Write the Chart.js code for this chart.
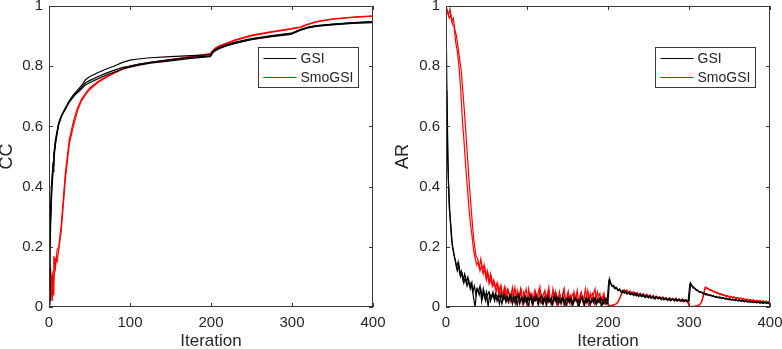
<!DOCTYPE html>
<html>
<head>
<meta charset="utf-8">
<script src="https://cdn.jsdelivr.net/npm/chart.js@4.4.0/dist/chart.umd.min.js"></script>
<style>
html, body { margin: 0; padding: 0; background: #fff; }
#wrap { position: relative; width: 782px; height: 349px; overflow: hidden; }
#wrap canvas { position: absolute; top: 0; }
</style>
</head>
<body>
<div id="wrap">
    <canvas id="ccChart" width="391" height="349" style="left:0"></canvas>
    <canvas id="arChart" width="391" height="349" style="left:391px"></canvas>
</div>
<script>
// ===== data =====
const xTicks = [0, 100, 200, 300, 400];
const xTickText = ['0', '100', '200', '300', '400'];
const yTicks = [0, 0.2, 0.4, 0.6, 0.8, 1];
const yTickText = ['0', '0.2', '0.4', '0.6', '0.8', '1'];
const legendLabels = ['GSI', 'SmoGSI'];

// CC panel: smooth curves, sampled at uneven iterations
const ccIter = [0, 1, 2, 3, 4, 5, 6, 8, 10, 12, 15, 18, 20, 25, 30, 35, 40, 45, 50, 60, 70, 80, 90, 100, 110, 125, 150, 175, 199,
    200, 202, 205, 210, 220, 230, 250, 275, 299, 300, 305, 310, 320, 330, 350, 375, 400];
const ccGsi1 = [.02, .2, .3, .38, .43, .47, .5, .55, .58, .61, .635, .65, .66, .685, .705, .72, .735, .755, .765, .778, .79, .80, .812, .82, .824, .828, .832, .835, .838,
    .84, .848, .855, .862, .872, .88, .892, .902, .91, .91, .916, .922, .93, .935, .94, .945, .948];
const ccGsi2 = [.01, .15, .27, .35, .41, .45, .49, .54, .575, .605, .63, .648, .658, .683, .70, .715, .728, .745, .752, .765, .776, .786, .795, .80, .806, .813, .822, .829, .834,
    .836, .846, .853, .86, .87, .878, .89, .90, .908, .909, .915, .921, .929, .934, .939, .944, .947];
const ccGsi3 = [.03, .24, .33, .40, .44, .48, .51, .555, .585, .612, .632, .646, .656, .68, .698, .712, .724, .738, .745, .758, .77, .78, .79, .797, .803, .81, .818, .826, .832,
    .834, .844, .851, .858, .868, .876, .888, .898, .906, .907, .913, .919, .927, .932, .937, .942, .945];
const ccSmo1 = [.05, .14, .02, .1, .11, .04, .17, .13, .19, .2, .27, .37, .44, .555, .615, .66, .69, .71, .727, .748, .765, .778, .79, .80, .806, .813, .822, .832, .842,
    .845, .852, .86, .868, .878, .888, .903, .915, .925, .926, .928, .93, .94, .948, .957, .963, .967];
const ccSmo2 = [0, .08, .13, .05, .02, .1, .09, .16, .15, .19, .25, .35, .42, .54, .60, .65, .685, .705, .722, .745, .762, .776, .789, .799, .805, .812, .821, .831, .84,
    .843, .85, .858, .866, .876, .886, .901, .913, .923, .924, .926, .929, .939, .947, .956, .962, .966];

// AR panel: noisy runs; run A on even iterations 0..400, run B on odd iterations 1..399
const arGsiA = [
    1.0, .50, .33, .27, .20, .17, .15, .12, .14, .10,
    .11, .08, .10, .07, .09, .06, .08, .03, .00, .06,
    .05, .07, .02, .06, .03, .05, .00, .045, .03, .05,
    .02, .04, .035, .01, .045, .02, .04, .015, .035, .025,
    .04, .01, .03, .035, .005, .04, .02, .03, .01, .035,
    .025, .0, .04, .015, .03, .02, .035, .005, .03, .04,
    .01, .03, .005, .035, .02, .03, .01, .04, .015, .025,
    .03, .01, .035, .005, .025, .03, .015, .03, .005, .025,
    .03, .015, .0, .025, .035, .01, .025, .015, .03, .005,
    .025, .015, .03, .01, .02, .03, .0, .02, .03, .01,
    .015, .093, .075, .07, .062, .066, .055, .06, .05, .055,
    .046, .052, .043, .05, .041, .047, .038, .046, .04, .035,
    .043, .034, .04, .031, .039, .03, .037, .029, .035, .026,
    .034, .027, .032, .024, .031, .026, .029, .022, .03, .023,
    .027, .02, .028, .021, .025, .019, .026, .02, .024, .017,
    .018, .08, .07, .066, .06, .057, .052, .05, .048, .045,
    .043, .044, .039, .041, .036, .038, .033, .036, .031, .034,
    .029, .032, .027, .03, .025, .028, .024, .026, .022, .025,
    .021, .024, .02, .022, .018, .021, .017, .02, .016, .019,
    .015, .018, .014, .017, .013, .016, .012, .015, .013, .011,
    .014];
const arGsiB = [
    .72, .42, .30, .22, .19, .16, .13, .15, .11, .12,
    .09, .11, .08, .10, .07, .08, .05, .07, .04, .06,
    .04, .06, .03, .05, .02, .04, .05, .02, .04, .03,
    .045, .02, .04, .03, .01, .04, .025, .035, .015, .04,
    .02, .035, .015, .03, .04, .01, .03, .02, .035, .015,
    .03, .02, .035, .01, .025, .04, .015, .03, .02, .01,
    .03, .02, .035, .015, .025, .005, .03, .02, .035, .01,
    .025, .02, .03, .015, .005, .03, .02, .025, .01, .03,
    .02, .025, .01, .03, .02, .005, .03, .02, .025, .015,
    .02, .03, .01, .025, .015, .03, .02, .01, .025, .02,
    .088, .08, .068, .072, .06, .063, .054, .058, .048, .052,
    .049, .044, .048, .042, .045, .04, .044, .037, .042, .039,
    .036, .041, .033, .037, .032, .036, .03, .034, .028, .033,
    .029, .031, .027, .03, .024, .028, .025, .027, .021, .026,
    .023, .026, .02, .025, .021, .023, .018, .023, .019, .021,
    .076, .072, .063, .062, .055, .054, .049, .05, .044, .046,
    .04, .042, .037, .04, .035, .035, .032, .033, .03, .031,
    .028, .03, .026, .028, .024, .026, .022, .025, .021, .023,
    .02, .022, .019, .021, .017, .02, .016, .018, .017, .015,
    .016, .014, .017, .013, .015, .012, .016, .013, .014, .012];
const arSmoA = [
    1.0, .98, .96, .97, .94, .93, .88, .85, .80, .73,
    .63, .56, .48, .41, .34, .28, .24, .19, .16, .14,
    .15, .12, .14, .11, .13, .09, .11, .08, .10, .07,
    .08, .05, .075, .04, .07, .035, .065, .03, .06, .045,
    .02, .065, .04, .01, .055, .03, .06, .015, .05, .035,
    .005, .06, .03, .045, .015, .055, .035, .02, .065, .025,
    .04, .055, .0, .05, .03, .015, .06, .025, .045, .01,
    .05, .02, .035, .06, .01, .045, .03, .04, .0, .05,
    .025, .055, .01, .04, .03, .02, .06, .03, .005, .045,
    .02, .04, .06, .01, .035, .045, .0, .04, .02, .03,
    .005, .004, .006, .005, .008, .01, .015, .025, .04, .05,
    .058, .049, .055, .045, .052, .043, .05, .041, .048, .04,
    .046, .037, .044, .035, .042, .033, .04, .032, .038, .03,
    .036, .028, .035, .027, .033, .025, .031, .024, .03, .022,
    .029, .021, .028, .02, .027, .019, .026, .018, .024, .02,
    .002, .001, .001, .002, .003, .004, .006, .01, .02, .04,
    .066, .062, .06, .056, .055, .05, .05, .046, .046, .042,
    .043, .038, .04, .035, .037, .032, .035, .03, .033, .028,
    .031, .026, .029, .025, .027, .023, .026, .022, .024, .021,
    .023, .019, .022, .018, .021, .017, .02, .016, .019, .016,
    .018];
const arSmoB = [
    .99, .97, .99, .95, .96, .92, .90, .86, .82, .78,
    .71, .64, .56, .48, .40, .33, .26, .21, .17, .16,
    .13, .16, .12, .14, .10, .12, .08, .11, .07, .09,
    .06, .08, .045, .07, .05, .03, .065, .04, .055, .02,
    .05, .035, .065, .02, .045, .03, .055, .01, .04, .06,
    .02, .045, .035, .0, .05, .025, .04, .06, .015, .035,
    .02, .045, .03, .065, .015, .04, .025, .05, .005, .035,
    .04, .015, .055, .03, .02, .05, .01, .035, .045, .02,
    .04, .0, .035, .05, .02, .04, .015, .055, .025, .035,
    .045, .01, .03, .05, .02, .035, .025, .045, .01, .02,
    .006, .004, .005, .007, .009, .012, .02, .032, .045, .053,
    .052, .056, .047, .053, .044, .05, .042, .047, .039, .045,
    .039, .043, .036, .041, .034, .039, .031, .037, .029, .035,
    .03, .034, .026, .032, .024, .03, .023, .029, .021, .027,
    .023, .027, .02, .026, .019, .025, .018, .023, .017, .022,
    .001, .002, .001, .002, .003, .005, .008, .014, .03, .055,
    .064, .063, .058, .058, .053, .053, .048, .049, .044, .045,
    .04, .041, .036, .038, .033, .036, .031, .034, .029, .032,
    .027, .03, .026, .028, .024, .027, .022, .025, .021, .024,
    .02, .022, .019, .021, .018, .02, .017, .019, .016, .018];

// ===== drawing =====
const FONT = 'Liberation Sans, Arial, Helvetica, sans-serif';
const AXIS_COLOR = '#383838';
const TEXT_COLOR = '#262626';
const BLACK = '#000000';
const RED = '#ff0000';
const TICK = 4;

const pts = (xs, ys) => ys.map((y, i) => ({ x: xs[i], y }));
// run A sits on even iterations, run B on odd ones
const onEven = ys => ys.map((y, i) => ({ x: 2 * i, y }));
const onOdd = ys => ys.map((y, i) => ({ x: 2 * i + 1, y }));

// box axes with inward ticks on all four sides + legend inside top right
const matlabAxes = {
    id: 'matlabAxes',
    afterDatasetsDraw(chart, args, opts) {
        const { ctx, chartArea: a, scales: { x, y } } = chart;
        ctx.save();
        ctx.strokeStyle = AXIS_COLOR;
        ctx.lineWidth = 1;
        ctx.beginPath();
        x.ticks.forEach(t => {
            const px = Math.round(x.getPixelForValue(t.value)) + .5;
            ctx.moveTo(px, a.bottom); ctx.lineTo(px, a.bottom - TICK);
            ctx.moveTo(px, a.top); ctx.lineTo(px, a.top + TICK);
        });
        y.ticks.forEach(t => {
            const py = Math.round(y.getPixelForValue(t.value)) + .5;
            ctx.moveTo(a.left, py); ctx.lineTo(a.left + TICK, py);
            ctx.moveTo(a.right, py); ctx.lineTo(a.right - TICK, py);
        });
        ctx.stroke();
        ctx.strokeRect(a.left + .5, a.top + .5, a.right - a.left - 1, a.bottom - a.top - 1);

        // legend
        const bw = 100, bh = 40;
        const bx = Math.round(a.right - opts.legendRight - bw) + .5;
        const by = Math.round(a.top + opts.legendTop) + .5;
        ctx.fillStyle = '#fff';
        ctx.fillRect(bx, by, bw, bh);
        ctx.strokeStyle = AXIS_COLOR;
        ctx.strokeRect(bx, by, bw, bh);
        ctx.font = '14px ' + FONT;
        ctx.textBaseline = 'middle';
        ctx.textAlign = 'left';
        legendLabels.forEach((lab, i) => {
            const ly = by + 11 + i * 19;
            ctx.strokeStyle = i === 0 ? BLACK : RED;
            ctx.lineWidth = 1.2;
            ctx.beginPath();
            ctx.moveTo(bx + 5, ly); ctx.lineTo(bx + 38, ly);
            ctx.stroke();
            ctx.fillStyle = TEXT_COLOR;
            ctx.fillText(lab, bx + 42, ly + 1);
        });
        ctx.restore();
    }
};

function lineSet(data, color) {
    return { data, borderColor: color, borderWidth: 1.2, pointRadius: 0, fill: false, tension: 0 };
}

function makeChart(id, datasets, yTitle, yWidth, rightPad, yTitlePad) {
    const fixPad = s => { s.paddingLeft = 0; s.paddingRight = 0; s.paddingTop = 0; s.paddingBottom = 0; };
    return new Chart(document.getElementById(id), {
        type: 'line',
        data: { datasets },
        plugins: [matlabAxes],
        options: {
            responsive: false,
            devicePixelRatio: 1,
            animation: false,
            layout: { padding: { top: 6, right: rightPad, left: 0, bottom: 0 } },
            plugins: {
                legend: { display: false },
                tooltip: { enabled: false },
                matlabAxes: { legendRight: 15, legendTop: 41 }
            },
            scales: {
                x: {
                    type: 'linear', min: 0, max: 400,
                    grid: { display: false, drawTicks: false },
                    border: { display: false },
                    afterBuildTicks: s => { s.ticks = xTicks.map(v => ({ value: v })); },
                    ticks: {
                        autoSkip: false, maxRotation: 0, padding: 7,
                        color: TEXT_COLOR, font: { family: FONT, size: 15 },
                        callback: (v, i) => xTickText[i]
                    },
                    title: { display: true, text: 'Iteration', color: TEXT_COLOR,
                        font: { family: FONT, size: 17, lineHeight: 1 }, padding: { top: 0, bottom: -1 } },
                    afterFit: s => { s.height = 42; fixPad(s); }
                },
                y: {
                    min: 0, max: 1,
                    grid: { display: false, drawTicks: false },
                    border: { display: false },
                    afterBuildTicks: s => { s.ticks = yTicks.map(v => ({ value: v })); },
                    ticks: {
                        autoSkip: false, padding: 6,
                        color: TEXT_COLOR, font: { family: FONT, size: 15 },
                        callback: (v, i) => yTickText[i]
                    },
                    title: { display: true, text: yTitle, color: TEXT_COLOR,
                        font: { family: FONT, size: 18, lineHeight: 1 }, padding: { top: yTitlePad, bottom: 0 } },
                    afterFit: s => { s.width = yWidth; fixPad(s); }
                }
            }
        }
    });
}

makeChart('ccChart', [
    lineSet(pts(ccIter, ccGsi1), BLACK),
    lineSet(pts(ccIter, ccGsi2), BLACK),
    lineSet(pts(ccIter, ccGsi3), BLACK),
    lineSet(pts(ccIter, ccSmo1), RED),
    lineSet(pts(ccIter, ccSmo2), RED)
], 'CC', 49, 18, -2);

makeChart('arChart', [
    lineSet(onEven(arGsiA), BLACK),
    lineSet(onOdd(arGsiB), BLACK),
    lineSet(onEven(arSmoA), RED),
    lineSet(onOdd(arSmoB), RED)
], 'AR', 55, 12, 3);
</script>
</body>
</html>
